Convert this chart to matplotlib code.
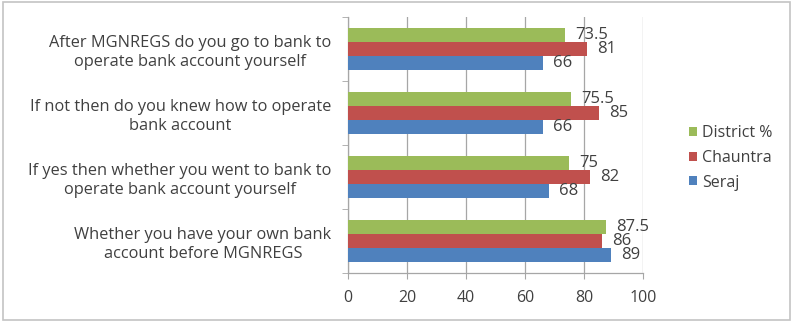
import matplotlib
matplotlib.use("Agg")
import matplotlib.pyplot as plt
from matplotlib.patches import Rectangle, Patch

plt.rcParams['font.family'] = ['Open Sans', 'DejaVu Sans']

categories = [
    "Whether you have your own bank\naccount before MGNREGS",
    "If yes then whether you went to bank to\noperate bank account yourself",
    "If not then do you knew how to operate\nbank account",
    "After MGNREGS do you go to bank to\noperate bank account yourself",
]
seraj = [89, 68, 66, 66]
chauntra = [86, 82, 85, 81]
district = [87.5, 75, 75.5, 73.5]

series = [
    ("Seraj", seraj, "#4F81BD", -1),
    ("Chauntra", chauntra, "#C0504D", 0),
    ("District %", district, "#9BBB59", 1),
]

W, H = 792, 321
fig = plt.figure(figsize=(W / 100, H / 100), dpi=100)
fig.patch.set_facecolor("white")

# outer chart frame
fig.add_artist(Rectangle((3 / W, 1 / H), 787 / W, 318 / H, transform=fig.transFigure,
                         fill=False, edgecolor="#C4C4C4", linewidth=1.2))

ax = fig.add_axes([348 / W, 1 - 273 / H, 295 / W, 256 / H])
text_color = "#404040"
grid_color = "#A6A6A6"
fs = 11.5

h = 0.223
ypos = list(range(len(categories)))
handles = {}
for name, vals, color, k in series:
    ys = [y + k * h for y in ypos]
    bars = ax.barh(ys, vals, height=h, color=color, edgecolor="none", zorder=3)
    handles[name] = Patch(facecolor=color, edgecolor="none")
    for b, v in zip(bars, vals):
        ax.annotate(f"{v:g}", xy=(v, b.get_y() + b.get_height() / 2),
                    xytext=(7.5, 0), textcoords="offset points",
                    ha="left", va="center", fontsize=12, color=text_color, zorder=4)

ax.set_xlim(0, 100)
ax.set_ylim(-0.5, len(categories) - 0.5)
ax.set_xticks(range(0, 101, 20))
ax.set_yticks(ypos)
ax.set_yticklabels(categories, fontsize=11.8, color=text_color, ha="right",
                   multialignment="center", linespacing=1.25)
ax.tick_params(axis="y", length=0, pad=12)
# category boundary tick marks
ax.set_yticks([y - 0.5 for y in ypos] + [len(categories) - 0.5], minor=True)
ax.tick_params(axis="y", which="minor", length=4, color=grid_color, direction="out")
ax.tick_params(axis="x", length=4, color=grid_color, labelsize=fs,
               labelcolor=text_color, pad=8)

ax.grid(axis="x", color=grid_color, linewidth=0.9, zorder=0)
for side in ("top", "right"):
    ax.spines[side].set_visible(False)
for side in ("left", "bottom"):
    ax.spines[side].set_color(grid_color)
    ax.spines[side].set_linewidth(0.9)

order = ["District %", "Chauntra", "Seraj"]
fig.legend([handles[n] for n in order], order, loc="upper left",
           bbox_to_anchor=(689 / W, 1 - 125 / H), frameon=False, fontsize=fs,
           labelcolor=text_color, handlelength=0.5, handleheight=0.5,
           handletextpad=0.3, labelspacing=0.55, borderaxespad=0,
           borderpad=0)

fig.savefig("out.png", dpi=100, facecolor="white")
